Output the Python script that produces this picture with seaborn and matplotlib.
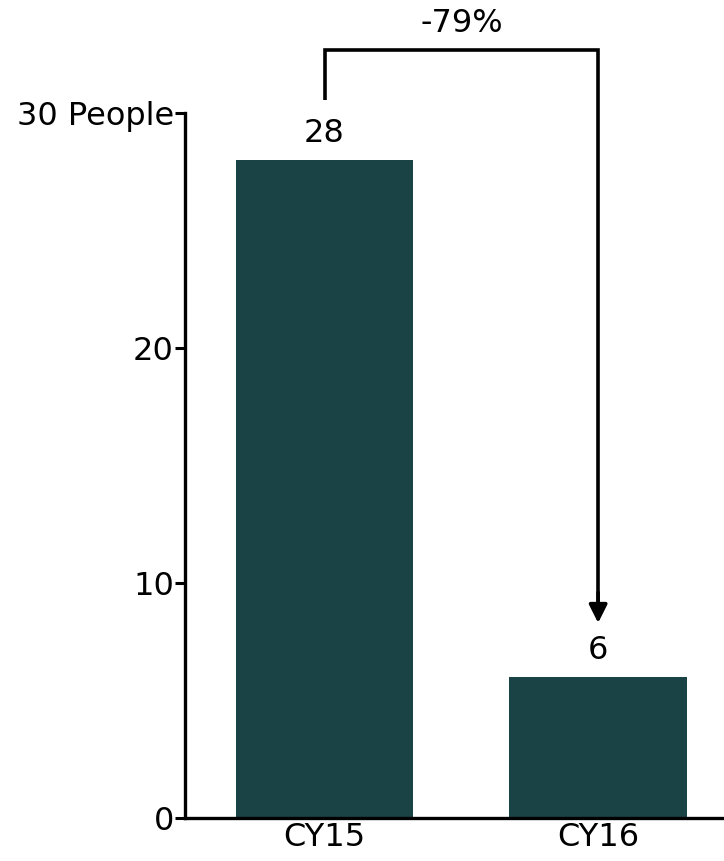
import pandas as pd
import matplotlib
matplotlib.use("Agg")
import matplotlib.pyplot as plt
import seaborn as sns

# data
years = ["CY15", "CY16"]
people = [28, 6]
change_label = "-79%"
ytick_values = [0, 10, 20, 30]
ytick_labels = ["0", "10", "20", "30 People"]

bar_color = "#1a4346"

sns.set_style("white")
plt.rcParams["font.family"] = ["DejaVu Sans"]
plt.rcParams["text.color"] = "black"
plt.rcParams["xtick.color"] = "black"
plt.rcParams["ytick.color"] = "black"

df = pd.DataFrame({"year": years, "people": people})

fig = plt.figure(figsize=(7.24, 8.61), dpi=100)
ax = fig.add_axes([0.2555, 0.0499, 0.7445, 0.8189])

sns.barplot(data=df, x="year", y="people", color=bar_color, width=0.65,
            saturation=1, linewidth=0, ax=ax)

ax.set_xlim(-0.51, 1.46)
ax.set_ylim(0, 30)
ax.set_yticks(ytick_values)
ax.set_yticklabels(ytick_labels)
ax.set_xlabel("")
ax.set_ylabel("")

for side in ["top", "right"]:
    ax.spines[side].set_visible(False)
for side in ["left", "bottom"]:
    ax.spines[side].set_linewidth(2.4)
    ax.spines[side].set_color("black")

fs = 23
ax.tick_params(axis="y", left=True, length=7, width=2.2, labelsize=fs, pad=1)
ax.tick_params(axis="x", bottom=False, length=0, labelsize=fs, pad=3)

# value labels above bars
for i, v in enumerate(people):
    ax.text(i, v + 0.45, str(v), ha="center", va="bottom", fontsize=fs)

# bracket arrow showing the change
top = 32.7
ax.plot([0, 0, 1, 1], [30.55, top, top, 9.2], color="black", lw=2.6,
        clip_on=False, solid_capstyle="butt", solid_joinstyle="miter")
ax.annotate("", xy=(1, 8.3), xytext=(1, 9.6),
            arrowprops=dict(arrowstyle="-|>,head_length=1.1,head_width=0.55",
                            color="black", lw=2.6, shrinkA=0, shrinkB=0),
            annotation_clip=False)
ax.text(0.5, top + 0.45, change_label, ha="center", va="bottom", fontsize=fs)

fig.savefig("out.png", dpi=100)
